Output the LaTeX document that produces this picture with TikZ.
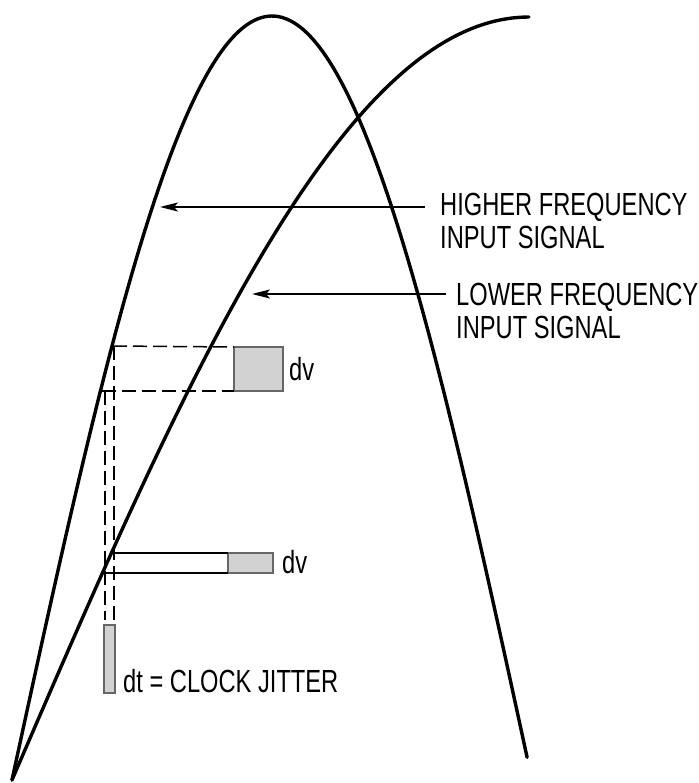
\documentclass[tikz,border=0pt]{standalone}
\usepackage{fontspec}
\newfontfamily\labfont{Liberation Sans}[FakeStretch=0.74]
\usetikzlibrary{arrows.meta}
\begin{document}
\begin{tikzpicture}[x=1pt,y=-1pt,
  curve/.style={line width=3.4pt, line cap=round, line join=round},
  guide/.style={line width=1.5pt, dash pattern=on 14pt off 6pt},
  thinline/.style={line width=1.3pt},
  pointer/.style={line width=1.5pt, -{Stealth[length=18pt,width=9pt,inset=4pt]}},
  jbox/.style={fill=gray!35, draw=black!60, line width=1.5pt, inner sep=0pt, outer sep=0pt, anchor=north west},
  lab/.style={font=\labfont\fontsize{32}{33}\selectfont, inner sep=0pt, anchor=base west}]
\useasboundingbox (0,0) rectangle (698,783);
% signals
\draw[curve] plot[domain=0:178.3, samples=160] ({12+2.88889*\x},{780-764*sin(\x)});
\draw[curve] plot[domain=0:90, samples=120] ({12+5.74444*\x},{780-763*sin(\x)});
% labels
\node[lab] (hf) at (440,216) {HIGHER FREQUENCY};
\node[lab] (hfs) at (440,249) {INPUT SIGNAL};
\node[lab] (lf) at (456,305) {LOWER FREQUENCY};
\node[lab] (lfs) at (456,338) {INPUT SIGNAL};
\node[lab] (dva) at (289,380) {dv};
\node[lab] (dvb) at (282,573) {dv};
\node[lab] (dt) at (123,692) {dt = CLOCK JITTER};
% boxes
\node[jbox, minimum width=49pt, minimum height=44pt] (b1) at (234,347) {};
\node[jbox, minimum width=45pt, minimum height=20pt] (b2) at (228,553) {};
\node[jbox, minimum width=11pt, minimum height=68pt] (b3) at (104,625) {};
% points on curves
\coordinate (h1) at (113,346);
\coordinate (h0) at (102,391);
\coordinate (v1) at (114,346);
\coordinate (v0) at (105,391);
\coordinate (v1e) at (114,620);
\coordinate (v0e) at (105,620);
\coordinate (l1) at (114,553);
\coordinate (l0) at (105,573);
\coordinate (th) at (160,207);
\coordinate (tl) at (252,294);
\coordinate (sh) at (425,207);
\coordinate (sl) at (446,294);
% guides
\draw[guide] (h1) -- (b1.north west);
\draw[guide] (h0) -- (b1.south west);
\draw[guide] (v1) -- (v1e);
\draw[guide] (v0) -- (v0e);
\draw[thinline] (l1) -- (b2.north west);
\draw[thinline] (l0) -- (b2.south west);
% pointers
\draw[pointer] (sh) -- (th);
\draw[pointer] (sl) -- (tl);
\end{tikzpicture}
\end{document}
